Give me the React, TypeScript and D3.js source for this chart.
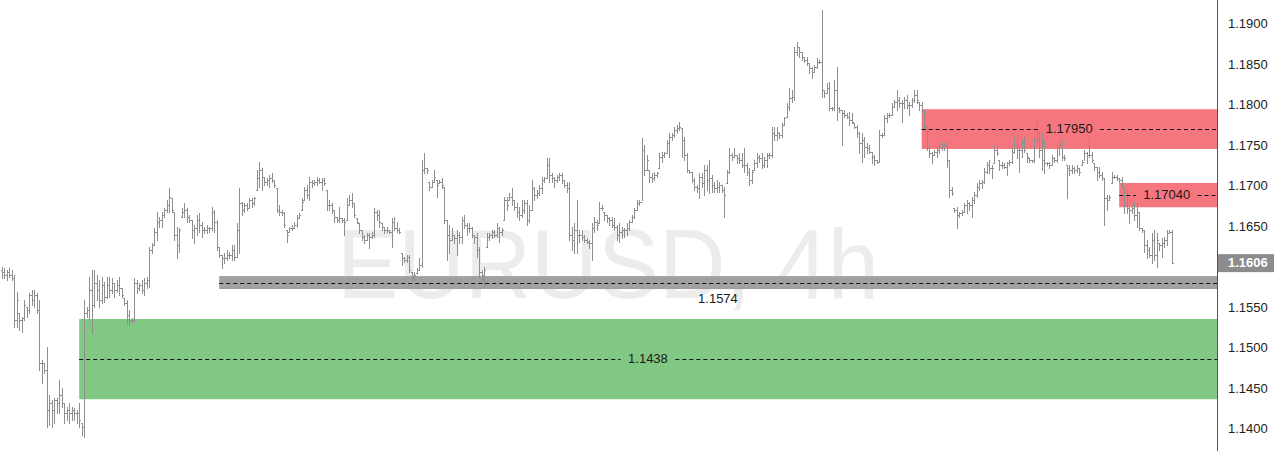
import React from "react";
import * as d3 from "d3";

const W = 1280;
const H = 451;
const PLOT_RIGHT = 1217;

const symbolTitle = "EURUSD, 4h";
const lastPrice = 1.1606;
const lastPriceLabel = "1.1606";
const priceTicks = [1.19, 1.185, 1.18, 1.175, 1.17, 1.165, 1.155, 1.15, 1.145, 1.14];

const zoneLows = [1.1438, 1.1574, 1.1747, 1.1675];
const zoneHighs = [1.1537, 1.159, 1.1796, 1.1705];
const zoneStartBars = [31, 87, 368, 447];
const zoneLabels = ["1.1438", "1.1574", "1.17950", "1.17040"];
const zoneLabelBars = [258.5, 286.5, 427, 466];
const zoneKinds = ["demand", "level", "supply", "supply"];

const highs = [1.1601,1.1600,1.1598,1.1600,1.1598,1.1591,1.1570,1.1544,1.1540,1.1560,
1.1552,1.1569,1.1573,1.1573,1.1569,1.1560,1.1486,1.1483,1.1502,1.1443,
1.1437,1.1440,1.1440,1.1462,1.1452,1.1433,1.1428,1.1433,1.1428,1.1427,
1.1425,1.1433,1.1409,1.1560,1.1552,1.1589,1.1598,1.1598,1.1591,1.1585,
1.1589,1.1583,1.1589,1.1589,1.1588,1.1581,1.1585,1.1589,1.1575,1.1563,
1.1560,1.1548,1.1538,1.1588,1.1585,1.1581,1.1585,1.1588,1.1589,1.1626,
1.1631,1.1649,1.1669,1.1663,1.1669,1.1674,1.1684,1.1699,1.1686,1.1669,
1.1651,1.1649,1.1674,1.1680,1.1674,1.1665,1.1659,1.1653,1.1665,1.1668,
1.1657,1.1651,1.1653,1.1651,1.1675,1.1672,1.1659,1.1626,1.1616,1.1619,
1.1622,1.1620,1.1628,1.1628,1.1656,1.1699,1.1681,1.1680,1.1680,1.1686,
1.1686,1.1688,1.1721,1.1731,1.1723,1.1712,1.1711,1.1715,1.1717,1.1709,
1.1699,1.1678,1.1672,1.1669,1.1647,1.1651,1.1653,1.1657,1.1665,1.1668,
1.1686,1.1700,1.1702,1.1712,1.1709,1.1709,1.1712,1.1711,1.1711,1.1711,
1.1696,1.1684,1.1680,1.1672,1.1663,1.1675,1.1662,1.1662,1.1686,1.1690,
1.1693,1.1680,1.1662,1.1656,1.1647,1.1641,1.1643,1.1643,1.1644,1.1674,
1.1672,1.1672,1.1656,1.1651,1.1651,1.1647,1.1662,1.1663,1.1657,1.1649,
1.1619,1.1614,1.1616,1.1616,1.1595,1.1595,1.1600,1.1612,1.1733,1.1742,
1.1723,1.1706,1.1709,1.1721,1.1709,1.1709,1.1711,1.1700,1.1659,1.1653,
1.1649,1.1641,1.1647,1.1644,1.1663,1.1665,1.1656,1.1656,1.1651,1.1641,
1.1643,1.1626,1.1598,1.1601,1.1643,1.1643,1.1647,1.1647,1.1656,1.1651,
1.1649,1.1688,1.1688,1.1693,1.1699,1.1684,1.1680,1.1675,1.1684,1.1684,
1.1684,1.1678,1.1709,1.1700,1.1696,1.1702,1.1712,1.1712,1.1736,1.1736,
1.1717,1.1712,1.1715,1.1717,1.1717,1.1709,1.1706,1.1706,1.1651,1.1656,
1.1684,1.1647,1.1647,1.1641,1.1637,1.1635,1.1656,1.1663,1.1659,1.1681,
1.1678,1.1669,1.1665,1.1663,1.1663,1.1662,1.1653,1.1656,1.1651,1.1649,
1.1656,1.1659,1.1665,1.1674,1.1684,1.1684,1.1761,1.1752,1.1740,1.1721,
1.1717,1.1719,1.1719,1.1742,1.1743,1.1743,1.1758,1.1767,1.1767,1.1774,
1.1777,1.1780,1.1773,1.1762,1.1742,1.1721,1.1719,1.1711,1.1702,1.1717,
1.1717,1.1727,1.1727,1.1733,1.1715,1.1706,1.1709,1.1706,1.1702,1.1700,
1.1721,1.1748,1.1742,1.1748,1.1740,1.1742,1.1742,1.1748,1.1730,1.1723,
1.1721,1.1733,1.1742,1.1740,1.1742,1.1737,1.1742,1.1742,1.1774,1.1774,
1.1774,1.1768,1.1779,1.1786,1.1804,1.1822,1.1820,1.1873,1.1879,1.1873,
1.1867,1.1860,1.1860,1.1853,1.1848,1.1851,1.1859,1.1857,1.1919,1.1820,
1.1828,1.1830,1.1799,1.1832,1.1848,1.1799,1.1795,1.1795,1.1791,1.1793,
1.1791,1.1779,1.1777,1.1768,1.1767,1.1762,1.1754,1.1752,1.1743,1.1740,
1.1733,1.1770,1.1767,1.1789,1.1791,1.1791,1.1804,1.1807,1.1820,1.1811,
1.1807,1.1811,1.1814,1.1805,1.1810,1.1820,1.1820,1.1805,1.1805,1.1795,
1.1774,1.1749,1.1743,1.1746,1.1749,1.1752,1.1756,1.1754,1.1756,1.1733,
1.1700,1.1674,1.1675,1.1669,1.1672,1.1680,1.1684,1.1681,1.1688,1.1694,
1.1705,1.1709,1.1709,1.1723,1.1731,1.1733,1.1727,1.1752,1.1754,1.1733,
1.1731,1.1730,1.1731,1.1733,1.1748,1.1762,1.1762,1.1749,1.1758,1.1762,
1.1742,1.1736,1.1733,1.1761,1.1780,1.1770,1.1767,1.1758,1.1731,1.1731,
1.1740,1.1737,1.1752,1.1758,1.1758,1.1740,1.1727,1.1727,1.1727,1.1725,
1.1727,1.1723,1.1733,1.1746,1.1743,1.1761,1.1743,1.1730,1.1725,1.1725,
1.1719,1.1711,1.1690,1.1690,1.1719,1.1715,1.1715,1.1711,1.1712,1.1700,
1.1696,1.1675,1.1678,1.1681,1.1680,1.1669,1.1649,1.1647,1.1635,1.1626,
1.1643,1.1647,1.1643,1.1631,1.1637,1.1638,1.1647,1.1647,1.1647];

const lows = [1.1588,1.1588,1.1585,1.1589,1.1585,1.1527,1.1527,1.1523,1.1521,1.1536,
1.1540,1.1544,1.1554,1.1552,1.1544,1.1474,1.1458,1.1470,1.1404,1.1406,
1.1404,1.1409,1.1421,1.1421,1.1428,1.1409,1.1412,1.1409,1.1412,1.1412,
1.1409,1.1404,1.1394,1.1391,1.1540,1.1536,1.1520,1.1552,1.1560,1.1552,
1.1557,1.1558,1.1563,1.1564,1.1569,1.1564,1.1570,1.1567,1.1564,1.1554,
1.1532,1.1530,1.1532,1.1533,1.1569,1.1573,1.1569,1.1567,1.1575,1.1577,
1.1619,1.1628,1.1635,1.1651,1.1651,1.1663,1.1669,1.1669,1.1669,1.1635,
1.1612,1.1620,1.1663,1.1663,1.1657,1.1657,1.1637,1.1631,1.1641,1.1644,
1.1638,1.1643,1.1643,1.1644,1.1647,1.1644,1.1622,1.1614,1.1600,1.1606,
1.1610,1.1612,1.1610,1.1610,1.1614,1.1619,1.1665,1.1669,1.1672,1.1674,
1.1675,1.1678,1.1696,1.1700,1.1696,1.1702,1.1702,1.1700,1.1706,1.1700,
1.1669,1.1665,1.1665,1.1651,1.1632,1.1644,1.1647,1.1649,1.1651,1.1662,
1.1672,1.1684,1.1686,1.1684,1.1700,1.1702,1.1702,1.1705,1.1696,1.1702,
1.1672,1.1672,1.1668,1.1657,1.1657,1.1657,1.1657,1.1641,1.1659,1.1678,
1.1675,1.1663,1.1656,1.1643,1.1635,1.1631,1.1635,1.1625,1.1637,1.1638,
1.1659,1.1651,1.1647,1.1643,1.1644,1.1643,1.1626,1.1647,1.1644,1.1643,
1.1604,1.1607,1.1607,1.1595,1.1585,1.1585,1.1594,1.1598,1.1601,1.1717,
1.1717,1.1696,1.1700,1.1706,1.1688,1.1705,1.1699,1.1656,1.1610,1.1619,
1.1635,1.1631,1.1616,1.1631,1.1631,1.1649,1.1641,1.1644,1.1638,1.1631,
1.1614,1.1589,1.1581,1.1577,1.1626,1.1635,1.1637,1.1638,1.1638,1.1632,
1.1641,1.1659,1.1672,1.1684,1.1678,1.1672,1.1663,1.1659,1.1663,1.1668,
1.1653,1.1657,1.1672,1.1684,1.1686,1.1690,1.1693,1.1706,1.1711,1.1706,
1.1706,1.1700,1.1706,1.1709,1.1705,1.1700,1.1694,1.1635,1.1622,1.1619,
1.1619,1.1632,1.1635,1.1632,1.1631,1.1625,1.1610,1.1644,1.1647,1.1656,
1.1672,1.1659,1.1657,1.1653,1.1651,1.1647,1.1635,1.1632,1.1637,1.1638,
1.1641,1.1647,1.1657,1.1662,1.1672,1.1678,1.1684,1.1715,1.1721,1.1706,
1.1706,1.1709,1.1712,1.1723,1.1731,1.1737,1.1742,1.1737,1.1758,1.1762,
1.1767,1.1770,1.1737,1.1733,1.1719,1.1717,1.1706,1.1696,1.1694,1.1686,
1.1700,1.1690,1.1696,1.1693,1.1694,1.1694,1.1694,1.1694,1.1694,1.1663,
1.1705,1.1717,1.1733,1.1737,1.1730,1.1730,1.1725,1.1719,1.1715,1.1702,
1.1705,1.1721,1.1725,1.1731,1.1723,1.1725,1.1725,1.1736,1.1737,1.1758,
1.1758,1.1761,1.1762,1.1777,1.1786,1.1795,1.1805,1.1807,1.1863,1.1860,
1.1857,1.1854,1.1851,1.1841,1.1835,1.1842,1.1847,1.1853,1.1811,1.1811,
1.1816,1.1795,1.1795,1.1795,1.1783,1.1793,1.1752,1.1786,1.1785,1.1777,
1.1779,1.1773,1.1762,1.1742,1.1731,1.1737,1.1742,1.1742,1.1730,1.1727,
1.1730,1.1731,1.1762,1.1764,1.1780,1.1786,1.1789,1.1799,1.1795,1.1799,
1.1780,1.1798,1.1798,1.1789,1.1799,1.1805,1.1804,1.1795,1.1791,1.1770,
1.1746,1.1737,1.1730,1.1740,1.1737,1.1742,1.1746,1.1746,1.1725,1.1688,
1.1690,1.1669,1.1649,1.1663,1.1665,1.1669,1.1668,1.1672,1.1663,1.1680,
1.1688,1.1696,1.1699,1.1705,1.1717,1.1717,1.1711,1.1730,1.1740,1.1721,
1.1723,1.1723,1.1715,1.1727,1.1730,1.1742,1.1736,1.1719,1.1737,1.1743,
1.1731,1.1731,1.1731,1.1731,1.1752,1.1737,1.1721,1.1717,1.1727,1.1723,
1.1727,1.1731,1.1731,1.1740,1.1733,1.1733,1.1686,1.1715,1.1717,1.1717,
1.1719,1.1715,1.1727,1.1733,1.1730,1.1737,1.1731,1.1721,1.1709,1.1712,
1.1709,1.1653,1.1672,1.1684,1.1705,1.1711,1.1709,1.1706,1.1700,1.1668,
1.1668,1.1656,1.1668,1.1659,1.1651,1.1647,1.1644,1.1620,1.1612,1.1614,
1.1606,1.1610,1.1601,1.1622,1.1614,1.1626,1.1628,1.1643,1.1606];

const opens = [1.1598,1.1595,1.1591,1.1595,1.1591,1.1588,1.1536,1.1544,1.1536,1.1538,
1.1552,1.1548,1.1567,1.1560,1.1567,1.1548,1.1483,1.1483,1.1474,1.1425,
1.1433,1.1425,1.1437,1.1433,1.1443,1.1433,1.1421,1.1425,1.1421,1.1425,
1.1421,1.1421,1.1409,1.1404,1.1544,1.1548,1.1573,1.1554,1.1581,1.1573,
1.1560,1.1579,1.1564,1.1579,1.1573,1.1581,1.1573,1.1579,1.1575,1.1563,
1.1557,1.1542,1.1536,1.1536,1.1581,1.1575,1.1579,1.1573,1.1581,1.1585,
1.1622,1.1628,1.1644,1.1657,1.1659,1.1665,1.1672,1.1678,1.1686,1.1669,
1.1641,1.1628,1.1663,1.1669,1.1672,1.1663,1.1659,1.1647,1.1649,1.1659,
1.1653,1.1647,1.1647,1.1649,1.1649,1.1669,1.1657,1.1626,1.1616,1.1612,
1.1612,1.1616,1.1616,1.1622,1.1614,1.1647,1.1680,1.1672,1.1678,1.1674,
1.1684,1.1680,1.1696,1.1711,1.1721,1.1712,1.1706,1.1709,1.1711,1.1709,
1.1699,1.1672,1.1669,1.1668,1.1647,1.1644,1.1649,1.1649,1.1653,1.1662,
1.1672,1.1684,1.1696,1.1690,1.1706,1.1705,1.1706,1.1709,1.1706,1.1709,
1.1696,1.1678,1.1678,1.1672,1.1663,1.1659,1.1662,1.1659,1.1659,1.1678,
1.1684,1.1680,1.1662,1.1656,1.1647,1.1638,1.1635,1.1641,1.1638,1.1641,
1.1669,1.1665,1.1656,1.1651,1.1647,1.1647,1.1644,1.1657,1.1649,1.1647,
1.1619,1.1612,1.1610,1.1614,1.1595,1.1589,1.1594,1.1598,1.1604,1.1721,
1.1723,1.1706,1.1700,1.1706,1.1709,1.1705,1.1706,1.1700,1.1659,1.1641,
1.1635,1.1641,1.1637,1.1641,1.1638,1.1659,1.1653,1.1649,1.1649,1.1641,
1.1638,1.1622,1.1595,1.1591,1.1626,1.1638,1.1641,1.1644,1.1641,1.1649,
1.1644,1.1659,1.1684,1.1684,1.1688,1.1684,1.1675,1.1669,1.1665,1.1672,
1.1680,1.1659,1.1672,1.1699,1.1690,1.1693,1.1699,1.1709,1.1711,1.1727,
1.1715,1.1711,1.1709,1.1712,1.1715,1.1709,1.1702,1.1699,1.1641,1.1635,
1.1647,1.1641,1.1641,1.1638,1.1635,1.1632,1.1631,1.1649,1.1657,1.1656,
1.1674,1.1669,1.1665,1.1662,1.1659,1.1653,1.1651,1.1641,1.1644,1.1647,
1.1647,1.1649,1.1657,1.1663,1.1672,1.1680,1.1681,1.1746,1.1721,1.1721,
1.1712,1.1711,1.1715,1.1723,1.1737,1.1740,1.1742,1.1754,1.1762,1.1764,
1.1770,1.1773,1.1773,1.1758,1.1740,1.1721,1.1719,1.1709,1.1700,1.1699,
1.1712,1.1705,1.1721,1.1709,1.1711,1.1702,1.1699,1.1700,1.1702,1.1696,
1.1705,1.1719,1.1740,1.1737,1.1740,1.1736,1.1733,1.1727,1.1727,1.1719,
1.1709,1.1721,1.1730,1.1737,1.1736,1.1727,1.1733,1.1740,1.1740,1.1767,
1.1764,1.1767,1.1764,1.1777,1.1786,1.1799,1.1810,1.1811,1.1867,1.1873,
1.1867,1.1860,1.1857,1.1853,1.1847,1.1842,1.1848,1.1854,1.1854,1.1820,
1.1816,1.1822,1.1798,1.1798,1.1820,1.1798,1.1795,1.1791,1.1789,1.1786,
1.1783,1.1779,1.1774,1.1767,1.1754,1.1758,1.1749,1.1748,1.1743,1.1737,
1.1733,1.1731,1.1764,1.1764,1.1785,1.1789,1.1789,1.1799,1.1805,1.1807,
1.1804,1.1804,1.1807,1.1801,1.1801,1.1807,1.1814,1.1805,1.1801,1.1795,
1.1774,1.1749,1.1742,1.1740,1.1743,1.1746,1.1749,1.1752,1.1752,1.1733,
1.1696,1.1674,1.1672,1.1665,1.1668,1.1669,1.1678,1.1680,1.1678,1.1684,
1.1690,1.1700,1.1705,1.1706,1.1719,1.1727,1.1723,1.1730,1.1746,1.1733,
1.1727,1.1727,1.1725,1.1730,1.1731,1.1743,1.1752,1.1746,1.1746,1.1754,
1.1742,1.1736,1.1733,1.1733,1.1758,1.1758,1.1746,1.1733,1.1730,1.1730,
1.1727,1.1736,1.1733,1.1748,1.1752,1.1737,1.1727,1.1723,1.1721,1.1723,
1.1721,1.1723,1.1727,1.1731,1.1742,1.1740,1.1740,1.1730,1.1725,1.1719,
1.1715,1.1711,1.1686,1.1684,1.1705,1.1712,1.1712,1.1711,1.1709,1.1700,
1.1678,1.1674,1.1672,1.1674,1.1665,1.1669,1.1649,1.1647,1.1628,1.1622,
1.1616,1.1635,1.1616,1.1631,1.1628,1.1631,1.1635,1.1643,1.1644];

const closes = [1.1595,1.1591,1.1595,1.1591,1.1588,1.1536,1.1560,1.1536,1.1538,1.1554,
1.1548,1.1567,1.1560,1.1567,1.1548,1.1483,1.1483,1.1474,1.1425,1.1433,
1.1425,1.1437,1.1433,1.1443,1.1433,1.1421,1.1425,1.1421,1.1425,1.1421,
1.1421,1.1412,1.1404,1.1544,1.1548,1.1573,1.1554,1.1581,1.1573,1.1560,
1.1579,1.1564,1.1579,1.1573,1.1581,1.1573,1.1579,1.1575,1.1567,1.1557,
1.1542,1.1536,1.1536,1.1581,1.1575,1.1579,1.1573,1.1581,1.1585,1.1622,
1.1628,1.1644,1.1657,1.1659,1.1665,1.1672,1.1678,1.1688,1.1672,1.1641,
1.1628,1.1647,1.1669,1.1672,1.1663,1.1659,1.1647,1.1649,1.1659,1.1653,
1.1647,1.1647,1.1649,1.1649,1.1669,1.1657,1.1626,1.1616,1.1612,1.1612,
1.1616,1.1616,1.1622,1.1614,1.1647,1.1680,1.1672,1.1678,1.1674,1.1684,
1.1680,1.1686,1.1711,1.1721,1.1712,1.1706,1.1709,1.1711,1.1709,1.1702,
1.1672,1.1669,1.1668,1.1653,1.1641,1.1649,1.1649,1.1653,1.1662,1.1665,
1.1681,1.1696,1.1690,1.1706,1.1705,1.1706,1.1709,1.1706,1.1709,1.1705,
1.1678,1.1678,1.1672,1.1663,1.1659,1.1662,1.1659,1.1657,1.1678,1.1684,
1.1680,1.1665,1.1657,1.1647,1.1638,1.1635,1.1641,1.1638,1.1641,1.1669,
1.1665,1.1657,1.1651,1.1647,1.1647,1.1644,1.1657,1.1649,1.1647,1.1644,
1.1612,1.1610,1.1614,1.1598,1.1589,1.1591,1.1598,1.1604,1.1721,1.1723,
1.1721,1.1700,1.1706,1.1712,1.1702,1.1706,1.1702,1.1659,1.1641,1.1635,
1.1641,1.1637,1.1641,1.1638,1.1659,1.1653,1.1649,1.1649,1.1641,1.1638,
1.1622,1.1595,1.1591,1.1598,1.1638,1.1641,1.1644,1.1641,1.1649,1.1644,
1.1647,1.1684,1.1678,1.1688,1.1684,1.1675,1.1669,1.1665,1.1672,1.1680,
1.1659,1.1672,1.1699,1.1690,1.1693,1.1699,1.1709,1.1711,1.1727,1.1715,
1.1711,1.1709,1.1712,1.1715,1.1709,1.1702,1.1699,1.1641,1.1635,1.1647,
1.1641,1.1641,1.1638,1.1635,1.1632,1.1631,1.1649,1.1657,1.1653,1.1674,
1.1674,1.1665,1.1662,1.1659,1.1653,1.1651,1.1641,1.1644,1.1647,1.1647,
1.1649,1.1657,1.1663,1.1672,1.1680,1.1681,1.1746,1.1721,1.1733,1.1712,
1.1711,1.1715,1.1717,1.1737,1.1740,1.1742,1.1754,1.1762,1.1764,1.1770,
1.1773,1.1774,1.1758,1.1740,1.1721,1.1719,1.1709,1.1700,1.1699,1.1712,
1.1705,1.1721,1.1709,1.1711,1.1702,1.1699,1.1700,1.1702,1.1696,1.1690,
1.1719,1.1740,1.1737,1.1740,1.1736,1.1733,1.1727,1.1727,1.1719,1.1709,
1.1719,1.1730,1.1737,1.1736,1.1727,1.1733,1.1740,1.1740,1.1767,1.1764,
1.1767,1.1764,1.1777,1.1785,1.1799,1.1810,1.1811,1.1867,1.1873,1.1867,
1.1860,1.1857,1.1853,1.1847,1.1842,1.1848,1.1854,1.1854,1.1820,1.1816,
1.1822,1.1798,1.1798,1.1820,1.1798,1.1795,1.1791,1.1789,1.1786,1.1783,
1.1780,1.1774,1.1767,1.1754,1.1758,1.1749,1.1748,1.1743,1.1737,1.1733,
1.1731,1.1764,1.1764,1.1785,1.1789,1.1789,1.1799,1.1805,1.1807,1.1804,
1.1804,1.1807,1.1801,1.1801,1.1807,1.1814,1.1807,1.1801,1.1795,1.1774,
1.1752,1.1742,1.1740,1.1743,1.1746,1.1749,1.1752,1.1752,1.1733,1.1696,
1.1693,1.1672,1.1665,1.1668,1.1669,1.1678,1.1680,1.1678,1.1684,1.1690,
1.1700,1.1705,1.1706,1.1719,1.1727,1.1723,1.1723,1.1746,1.1742,1.1727,
1.1727,1.1725,1.1730,1.1731,1.1743,1.1752,1.1746,1.1746,1.1754,1.1746,
1.1737,1.1733,1.1733,1.1758,1.1758,1.1746,1.1733,1.1730,1.1730,1.1727,
1.1736,1.1733,1.1748,1.1752,1.1737,1.1736,1.1723,1.1721,1.1723,1.1721,
1.1723,1.1719,1.1731,1.1742,1.1740,1.1740,1.1733,1.1725,1.1719,1.1715,
1.1711,1.1686,1.1684,1.1688,1.1712,1.1712,1.1711,1.1709,1.1702,1.1678,
1.1674,1.1672,1.1674,1.1665,1.1669,1.1649,1.1647,1.1628,1.1622,1.1616,
1.1635,1.1616,1.1635,1.1628,1.1631,1.1635,1.1643,1.1644,1.1606];

const FONT = "'Liberation Sans', Arial, sans-serif";
const zoneFill: Record<string, string> = {
  demand: "#80c883",
  level: "#a0a0a0",
  supply: "#f6767f",
};

export default function App() {
  const n = highs.length;
  const x = d3.scaleLinear().domain([0, n - 1]).range([1.7, 1171.7]);
  const y = d3.scaleLinear().domain([1.14, 1.19]).range([430, 25]);

  let barPath = "";
  for (let i = 0; i < n; i++) {
    const cx = Math.round(x(i)) + 0.5;
    const yh = Math.round(y(highs[i]));
    const yl = Math.round(y(lows[i]));
    const yo = Math.round(y(opens[i])) + 0.5;
    const yc = Math.round(y(closes[i])) + 0.5;
    barPath += `M${cx},${yh}V${yl + 1}M${cx - 1.5},${yo}H${cx}M${cx},${yc}H${cx + 1.5}`;
  }

  const zones = zoneLows.map((lo, k) => {
    const hi = zoneHighs[k];
    const x0 = x(zoneStartBars[k]);
    const yTop = y(hi);
    const yBot = y(lo);
    const yMid = Math.round(y((lo + hi) / 2)) + 0.5;
    const lx = x(zoneLabelBars[k]);
    const label = zoneLabels[k];
    const tw = label.length * 6.8;
    const gap = tw / 2 + 7;
    const kind = zoneKinds[k];
    return { k, x0, yTop, yBot, yMid, lx, label, gap, kind };
  });

  const yLast = y(lastPrice);

  return (
    <svg
      width={W}
      height={H}
      style={{ position: "absolute", left: 0, top: 0, background: "#ffffff" }}
      fontFamily={FONT}
    >
      <rect x={0} y={0} width={W} height={H} fill="#ffffff" />
      <text
        x={608}
        y={298}
        fontSize={98}
        textAnchor="middle"
        fill="#ececec"
        textLength={542}
        lengthAdjust="spacingAndGlyphs"
      >
        {symbolTitle}
      </text>

      {zones.map((z) => (
        <rect
          key={"z" + z.k}
          x={z.x0}
          y={z.yTop}
          width={PLOT_RIGHT - z.x0}
          height={z.yBot - z.yTop}
          fill={zoneFill[z.kind]}
        />
      ))}

      <path d={barPath} stroke="#8e8e8e" strokeWidth={1} fill="none" />

      {zones.map((z) =>
        z.kind === "level" ? (
          <g key={"d" + z.k}>
            <line x1={z.x0} x2={PLOT_RIGHT} y1={z.yMid} y2={z.yMid} stroke="#111" strokeDasharray="4,3" />
            <text x={z.lx} y={z.yBot + 11} fontSize={13} textAnchor="middle" dominantBaseline="middle" fill="#1a1a1a">
              {z.label}
            </text>
          </g>
        ) : (
          <g key={"d" + z.k}>
            <line x1={z.x0} x2={z.lx - z.gap} y1={z.yMid} y2={z.yMid} stroke="#111" strokeDasharray="4,3" />
            <line x1={z.lx + z.gap} x2={PLOT_RIGHT} y1={z.yMid} y2={z.yMid} stroke="#111" strokeDasharray="4,3" />
            <text x={z.lx} y={z.yMid} fontSize={13} textAnchor="middle" dominantBaseline="middle" fill="#1a1a1a">
              {z.label}
            </text>
          </g>
        )
      )}

      <rect x={PLOT_RIGHT + 0.5} y={0} width={W - PLOT_RIGHT} height={H} fill="#ffffff" />
      <line x1={PLOT_RIGHT + 0.5} x2={PLOT_RIGHT + 0.5} y1={0} y2={H} stroke="#555" strokeWidth={1} />
      {priceTicks.map((t) => (
        <text key={t} x={1228} y={y(t)} fontSize={13} dominantBaseline="middle" fill="#222">
          {t.toFixed(4)}
        </text>
      ))}
      <rect x={PLOT_RIGHT + 1} y={yLast - 9} width={56} height={18} fill="#8c8c8c" />
      <text x={1228} y={yLast} fontSize={13} dominantBaseline="middle" fill="#ffffff" fontWeight="bold">
        {lastPriceLabel}
      </text>
    </svg>
  );
}
